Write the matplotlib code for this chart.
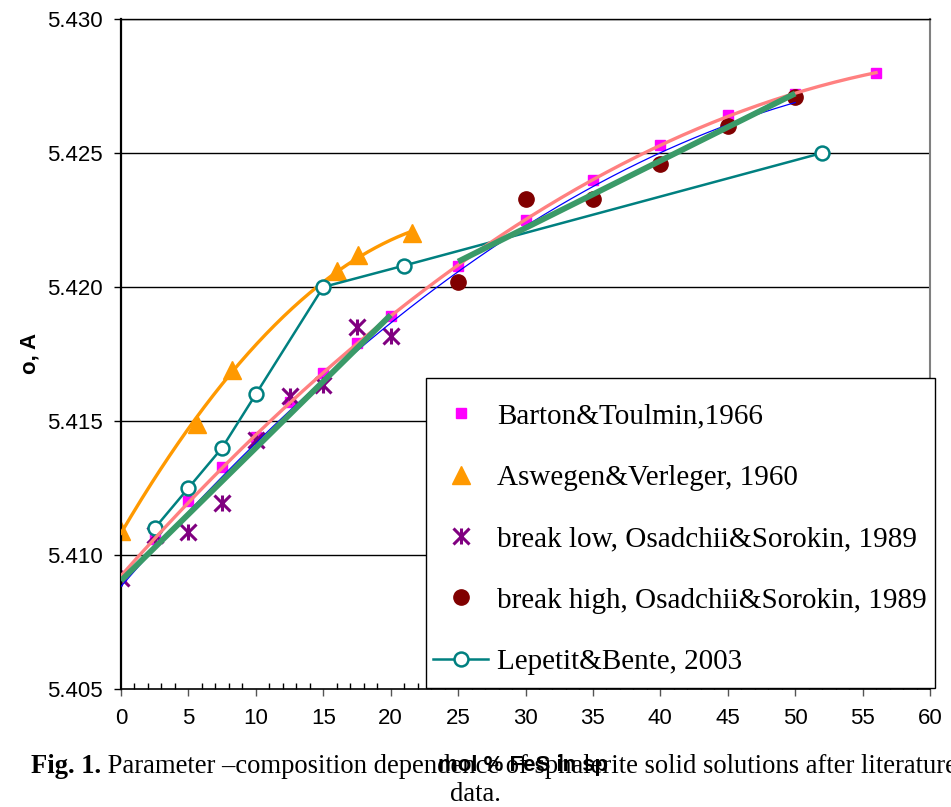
import numpy as np
import matplotlib
matplotlib.use('Agg')
import matplotlib.pyplot as plt
from matplotlib.patches import Rectangle
from matplotlib.lines import Line2D
from matplotlib.legend_handler import HandlerTuple
from matplotlib.ticker import MultipleLocator, FormatStrFormatter
from matplotlib.text import Annotation

# ---- data ----
barton_x = [0, 2.5, 5, 7.5, 10, 12.5, 15, 17.5, 20, 25, 30, 35, 40, 45, 50, 56]
barton_y = [5.4092, 5.4106, 5.4120, 5.4133, 5.4144, 5.4157, 5.4168, 5.4179, 5.4189,
            5.4208, 5.4225, 5.4240, 5.4253, 5.4264, 5.4272, 5.4280]
aswegen_x = [0, 5.6, 8.2, 16.0, 17.6, 21.6]
aswegen_y = [5.4109, 5.4149, 5.4169, 5.4206, 5.4212, 5.4220]
low_x = [0, 2.5, 5, 7.5, 10, 12.5, 15, 17.5, 20]
low_y = [5.40915, 5.41075, 5.41085, 5.41195, 5.41430, 5.41595, 5.41636, 5.41850, 5.41817]
high_x = [25, 30, 35, 40, 45, 50]
high_y = [5.4202, 5.4233, 5.4233, 5.4246, 5.4260, 5.4271]
lep_x = [2.5, 5, 7.5, 10, 15, 21, 52]
lep_y = [5.4110, 5.4125, 5.4140, 5.4160, 5.4200, 5.4208, 5.4250]

labels = ["Barton&Toulmin,1966", "Aswegen&Verleger, 1960",
          "break low, Osadchii&Sorokin, 1989", "break high, Osadchii&Sorokin, 1989",
          "Lepetit&Bente, 2003"]
x_ticks = list(range(0, 61, 5))
y_ticks = [5.405, 5.410, 5.415, 5.420, 5.425, 5.430]

W, H = 951, 807
fig = plt.figure(figsize=(W / 100, H / 100), dpi=100)
ax = fig.add_axes([121 / W, 1 - 689 / H, (930 - 121) / W, (689 - 19) / H])
ax.set_xlim(0, 60)
ax.set_ylim(5.405, 5.430)

# grid
for yv in y_ticks[1:]:
    ax.axhline(yv, color='black', lw=1.0, zorder=0.5)

# markers
ax.plot(barton_x, barton_y, 's', color='#FF00FF', ms=7, mec='#FF00FF', zorder=2)
ax.plot(aswegen_x, aswegen_y, '^', color='#FF9900', ms=13, mec='#FF9900', zorder=2)
ax.plot(low_x, low_y, 'x', color='#800080', ms=11, mew=2.2, zorder=2)
ax.plot(low_x, low_y, '|', color='#800080', ms=11, mew=2.2, zorder=2)
ax.plot(high_x, high_y, 'o', color='#800000', ms=11, mec='#800000', zorder=2)

# Lepetit line with open circles
ax.plot(lep_x, lep_y, '-', color='#008080', lw=1.8, zorder=3)
ax.plot(lep_x, lep_y, 'o', mfc='white', mec='#008080', mew=1.8, ms=10, zorder=3.1)

# trend lines from the data
def trend(xs, ys, deg, x0, x1):
    c = np.polyfit(xs, ys, deg)
    xx = np.linspace(x0, x1, 200)
    return xx, np.polyval(c, xx)

xx, yy = trend(aswegen_x, aswegen_y, 2, min(aswegen_x), max(aswegen_x))
ax.plot(xx, yy, color='#FF9900', lw=2.4, zorder=3)
xx, yy = trend(barton_x, barton_y, 2, min(barton_x), max(barton_x))
ax.plot(xx, yy, color='#FF8080', lw=2.4, zorder=4)
xx, yy = trend(low_x + high_x, low_y + high_y, 2, 0, 50)
ax.plot(xx, yy, color='#0000FF', lw=0.9, zorder=4.5)
xx, yy = trend(low_x, low_y, 1, min(low_x), max(low_x))
ax.plot(xx, yy, color='#3A9A68', lw=4.2, zorder=5, solid_capstyle='butt')
xx, yy = trend(high_x, high_y, 1, min(high_x), max(high_x))
ax.plot(xx, yy, color='#3A9A68', lw=4.2, zorder=5, solid_capstyle='butt')

# axes styling
for s in ['left', 'bottom', 'top']:
    ax.spines[s].set_color('black')
ax.spines['left'].set_linewidth(1.6)
ax.spines['bottom'].set_linewidth(1.2)
ax.spines['top'].set_linewidth(1.0)
ax.spines['right'].set_color('#808080')
ax.spines['right'].set_linewidth(1.5)

ax.set_xticks(x_ticks)
ax.xaxis.set_minor_locator(MultipleLocator(1))
ax.set_yticks(y_ticks)
ax.yaxis.set_major_formatter(FormatStrFormatter('%.3f'))
ax.tick_params(axis='x', which='major', direction='out', length=5, width=1, color='#555555', pad=9,
               labelsize=16, top=False)
ax.tick_params(axis='x', which='minor', direction='in', length=4, width=1, color='black', top=False)
ax.tick_params(axis='y', which='major', direction='out', length=5, width=1, pad=8, labelsize=16, right=False)
for lab in ax.get_xticklabels() + ax.get_yticklabels():
    lab.set_fontfamily('Liberation Sans')

# legend box
rect = Rectangle((426 / W, 1 - 688 / H), (935 - 426) / W, (688 - 378) / H,
                 transform=fig.transFigure, facecolor='white', edgecolor='black', lw=1.0, zorder=3)
fig.patches.append(rect)

h1 = Line2D([], [], ls='none', marker='s', color='#FF00FF', ms=7)
h2 = Line2D([], [], ls='none', marker='^', color='#FF9900', ms=13)
h3a = Line2D([], [], ls='none', marker='x', color='#800080', ms=11, mew=2.2)
h3b = Line2D([], [], ls='none', marker='|', color='#800080', ms=11, mew=2.2)
h4 = Line2D([], [], ls='none', marker='o', color='#800000', ms=11)
h5 = Line2D([], [], ls='-', lw=1.8, marker='o', color='#008080', mfc='white', mew=1.8, ms=10)
leg = fig.legend([h1, h2, (h3a, h3b), h4, h5], labels,
                 handler_map={tuple: HandlerTuple(ndivide=1, pad=0)},
                 loc='upper left', bbox_to_anchor=(433 / W, 1 - 403 / H),
                 frameon=False, borderpad=0, borderaxespad=0,
                 handlelength=1.9, handletextpad=0.3, labelspacing=1.2,
                 prop={'family': 'Liberation Serif', 'size': 21})
leg.set_zorder(6)

# axis titles
fig.text(30 / W, 1 - 353 / H, 'o, A', rotation=90, ha='center', va='center',
         fontfamily='Liberation Sans', fontweight='bold', fontsize=16)

# caption
t1 = fig.text(31 / W, 1 - 779 / H, 'Fig. 1.', fontfamily='Liberation Serif', fontweight='bold',
              fontsize=19.2, ha='left', va='bottom')
a = Annotation(' Parameter \u2013composition dependence of sphalerite solid solutions after literature',
               xy=(1, 0), xycoords=t1, ha='left', va='bottom',
               fontfamily='Liberation Serif', fontsize=19.2)
fig.add_artist(a)
fig.text(475 / W, 1 - 807 / H, 'data.', fontfamily='Liberation Serif', fontsize=19.2,
         ha='center', va='bottom')

fig.text(523 / W, 1 - 766 / H, 'mol % FeS in sp', ha='center', va='center',
         fontfamily='Liberation Sans', fontweight='bold', fontsize=16)

fig.savefig('out.png', dpi=100)
